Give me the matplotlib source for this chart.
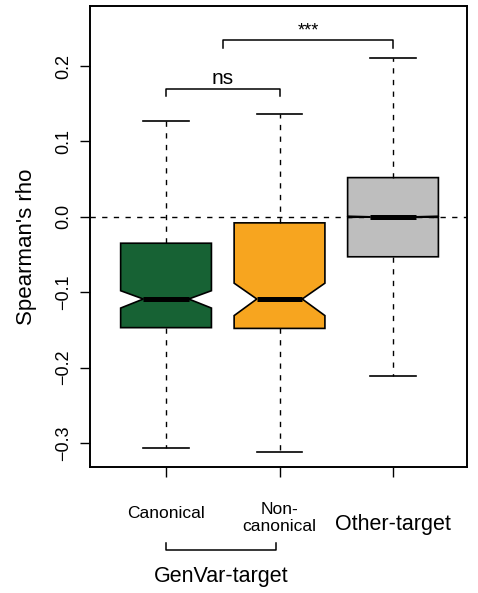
import matplotlib
matplotlib.use("Agg")
import matplotlib.pyplot as plt
import matplotlib.transforms as mtransforms

plt.rcParams['font.family'] = ['Liberation Sans', 'DejaVu Sans']

# ---- data ----
groups = ["Canonical", "Non-\ncanonical", "Other-target"]
q1 = [-0.147, -0.148, -0.053]
q3 = [-0.035, -0.008, 0.052]
med = [-0.109, -0.109, 0.000]
ci_lo = [-0.121, -0.131, -0.0008]
ci_hi = [-0.098, -0.088, 0.0008]
whis_lo = [-0.307, -0.312, -0.211]
whis_hi = [0.127, 0.136, 0.210]
colors = ["#176234", "#F7A51F", "#BEBEBE"]
yticks = [-0.3, -0.2, -0.1, 0.0, 0.1, 0.2]
ytick_labels = ["\u22120.3", "\u22120.2", "\u22120.1", "0.0", "0.1", "0.2"]
sig_pairs = [(1, 2, 0.1698, 0.1596, "ns"), (1.5, 3, 0.2347, 0.224, "***")]
group_bracket = (1, 1.97, "GenVar-target")

fig = plt.figure(figsize=(4.78, 5.93), dpi=100)
ax = fig.add_axes([90/478, 1-467/593, (467-90)/478, (467-6)/593])

stats = []
for i in range(len(groups)):
    stats.append(dict(med=med[i], q1=q1[i], q3=q3[i], cilo=ci_lo[i], cihi=ci_hi[i],
                      whislo=whis_lo[i], whishi=whis_hi[i], fliers=[]))
dash = (0, (3.8, 4.6))
bp = ax.bxp(stats, positions=[1, 2, 3], widths=0.8, shownotches=True, patch_artist=True,
            showfliers=False,
            boxprops=dict(linewidth=1.2, edgecolor="black"),
            medianprops=dict(linewidth=3.6, color="black", solid_capstyle="butt"),
            whiskerprops=dict(linewidth=1.0, linestyle=dash, color="black"),
            capprops=dict(linewidth=1.2, color="black"))
for patch, c in zip(bp['boxes'], colors):
    patch.set_facecolor(c)
    patch.set_zorder(2)
for ln in bp['medians']:
    ln.set_zorder(3)

ax.axhline(0, color="black", linestyle=dash, linewidth=1.0, zorder=4)

ax.set_xlim(0.33, 3.652)
ax.set_ylim(-0.3318, 0.2796)

ax.set_yticks(yticks)
ax.set_yticklabels(ytick_labels, rotation=90, va="center", fontsize=13)
ax.set_xticks([1, 2, 3])
ax.set_xticklabels([])
ax.tick_params(axis="both", length=7, width=1.0, direction="out")
ax.tick_params(axis="y", pad=6)
for s in ax.spines.values():
    s.set_linewidth(1.4)
ax.set_ylabel("Spearman's rho", fontsize=16)
ax.yaxis.set_label_coords(-0.14, 0.477)

# significance brackets
for x0, x1, ytop, ybot, lab in sig_pairs:
    ax.plot([x0, x0, x1, x1], [ybot, ytop, ytop, ybot], color="black", linewidth=1.1,
            clip_on=False)
    if lab == "ns":
        ax.text((x0 + x1) / 2, ytop + 0.007, lab, ha="center", va="baseline", fontsize=15)
    else:
        ax.text((x0 + x1) / 2, ytop + 0.006, lab, ha="center", va="baseline", fontsize=13)

# category labels below axis
trans = mtransforms.blended_transform_factory(ax.transData, ax.transAxes)
label_y = [-0.0998, -0.1106, -0.1258]
label_fs = [12.5, 12.5, 15.5]
for i, g in enumerate(groups):
    ax.text(i + 1, label_y[i], g, transform=trans, ha="center", va="center",
            fontsize=label_fs[i], linespacing=1.15)

gx0, gx1, glab = group_bracket
ax.plot([gx0, gx0, gx1, gx1], [-0.165, -0.180, -0.180, -0.165], transform=trans,
        color="black", linewidth=1.1, clip_on=False)
ax.text((gx0 + gx1) / 2, -0.238, glab, transform=trans, ha="center", va="center",
        fontsize=15.5)

fig.savefig("out.png", dpi=100)
